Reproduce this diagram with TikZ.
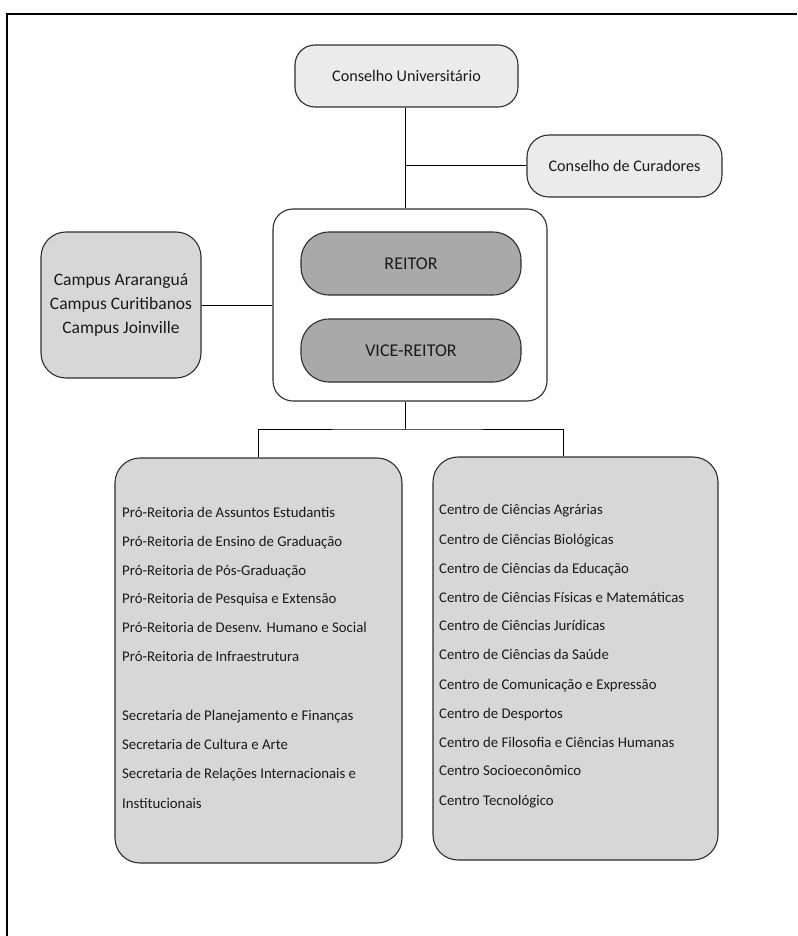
\documentclass[tikz,border=0pt]{standalone}
\usepackage{fontspec}
\setmainfont{Carlito}
\definecolor{lightfill}{HTML}{EBEBEB}
\definecolor{midfill}{HTML}{D7D7D7}
\definecolor{darkfill}{HTML}{A9A9A9}
\definecolor{edgecol}{HTML}{2E2E2E}
\definecolor{txtcol}{HTML}{1A1A1A}
\begin{document}
\begin{tikzpicture}[x=1pt,y=1pt,
  box/.style={draw=edgecol, line width=1.1pt, inner sep=0pt, text=txtcol},
  conn/.style={draw=black, line width=1pt},
  listtext/.style={anchor=mid west, inner sep=0pt, text=txtcol, font=\fontsize{14.8}{17}\selectfont},
  headtext/.style={font=\fontsize{16.2}{19}\selectfont},
  bigtext/.style={font=\fontsize{18}{21}\selectfont}]
\useasboundingbox (0,0) rectangle (797,-936);
% frame
\draw[line width=2pt] (7,-936) -- (7,-14) -- (797,-14);
% boxes
\node[box, fill=lightfill, rounded corners=20pt, minimum width=223pt, minimum height=62pt, headtext] (cu) at (406.5,-76) {Conselho Universitário};
\node[box, fill=lightfill, rounded corners=22pt, minimum width=195pt, minimum height=62pt, headtext] (cur) at (624.5,-166) {Conselho de Curadores};
\node[box, fill=midfill, rounded corners=25pt, minimum width=160pt, minimum height=146pt, align=center, font=\fontsize{17.5}{24}\selectfont] (campus) at (121,-305) {Campus Araranguá\\Campus Curitibanos\\Campus Joinville};
\node[box, fill=white, rounded corners=20pt, minimum width=274pt, minimum height=192pt] (reit) at (410,-305) {};
\node[box, fill=darkfill, rounded corners=28pt, minimum width=220pt, minimum height=63pt, bigtext] (reitor) at (411,-263.5) {REITOR};
\node[box, fill=darkfill, rounded corners=28pt, minimum width=220pt, minimum height=63pt, bigtext] (vice) at (411,-350.5) {VICE-REITOR};
\node[box, fill=midfill, rounded corners=25pt, minimum width=287pt, minimum height=405pt] (left) at (258.5,-660.5) {};
\node[box, fill=midfill, rounded corners=25pt, minimum width=285pt, minimum height=403pt] (right) at (575.5,-658.5) {};
% connectors
\coordinate (spine) at (405,0);
\coordinate (bus) at (405,-429);
\coordinate (rdrop) at (563,-429);
\draw[conn] (cu.south -| spine) -- (reit.north -| spine);
\draw[conn] (spine |- cur.west) -- (cur.west);
\draw[conn] (campus.east) -- (campus.east -| reit.west);
\draw[conn] (reit.south -| spine) -- (bus);
\draw[conn] (left.north) |- (bus) -| (rdrop) -- (right.north -| rdrop);
% left list
\node[listtext] (l1) at (122,-515) {Pró-Reitoria de Assuntos Estudantis};
\node[listtext] (l2) at (122,-544) {Pró-Reitoria de Ensino de Graduação};
\node[listtext] (l3) at (122,-573) {Pró-Reitoria de Pós-Graduação};
\node[listtext] (l4) at (122,-601) {Pró-Reitoria de Pesquisa e Extensão};
\node[listtext] (l5) at (122,-630) {Pró-Reitoria de Desenv. Humano e Social};
\node[listtext] (l6) at (122,-659) {Pró-Reitoria de Infraestrutura};
\node[listtext] (l7) at (122,-718) {Secretaria de Planejamento e Finanças};
\node[listtext] (l8) at (122,-747) {Secretaria de Cultura e Arte};
\node[listtext] (l9) at (122,-776) {Secretaria de Relações Internacionais e};
\node[listtext] (l10) at (122,-806) {Institucionais};
% right list
\node[listtext] (r1) at (439,-512) {Centro de Ciências Agrárias};
\node[listtext] (r2) at (439,-542) {Centro de Ciências Biológicas};
\node[listtext] (r3) at (439,-571) {Centro de Ciências da Educação};
\node[listtext] (r4) at (439,-600) {Centro de Ciências Físicas e Matemáticas};
\node[listtext] (r5) at (439,-628) {Centro de Ciências Jurídicas};
\node[listtext] (r6) at (439,-657) {Centro de Ciências da Saúde};
\node[listtext] (r7) at (439,-687) {Centro de Comunicação e Expressão};
\node[listtext] (r8) at (439,-716) {Centro de Desportos};
\node[listtext] (r9) at (439,-745) {Centro de Filosofia e Ciências Humanas};
\node[listtext] (r10) at (439,-773) {Centro Socioeconômico};
\node[listtext] (r11) at (439,-803) {Centro Tecnológico};
\end{tikzpicture}
\end{document}
